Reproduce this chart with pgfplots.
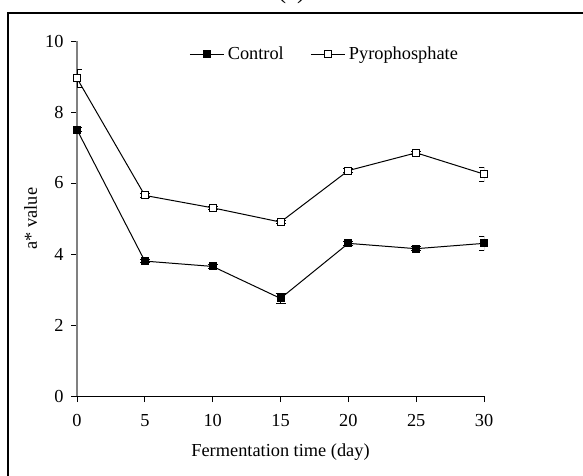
\documentclass[border=0pt]{standalone}
\usepackage{pgfplots}
\pgfplotsset{compat=1.18}
\usepackage{fontspec}
\setmainfont{Liberation Serif}

\begin{document}
\begin{tikzpicture}
% 1 px of the reference = 0.6pt
\path[use as bounding box] (0pt,0pt) rectangle (349.8pt,285pt);
% frame (only left and top visible)
\draw[line width=1.2pt] (4.8pt,-2pt) -- (4.8pt,277.2pt) -- (352pt,277.2pt);
\node[font=\fontsize{15}{17}\selectfont, anchor=base] at (175pt,286pt) {(a)};
\begin{axis}[
  at={(46.2pt,47.4pt)}, anchor=south west,
  scale only axis, width=244.2pt, height=213pt,
  xmin=0, xmax=30, ymin=0, ymax=10,
  axis lines=left,
  axis line style={-},
  x axis line style={black, line width=0.6pt},
  y axis line style={gray, line width=0.9pt},
  xtick={0,5,...,30}, ytick={0,2,...,10},
  tick style={black, line width=0.5pt},
  tick align=outside,
  major tick length=3.6pt,
  tick label style={font=\fontsize{11}{13}\selectfont},
  xticklabel style={yshift=-4pt},
  yticklabel style={xshift=-1pt},
  /pgf/number format/assume math mode=true,
  xlabel={Fermentation time (day)},
  ylabel={a* value},
  xlabel style={yshift=-3.5pt},
  ylabel style={yshift=-2pt},
  label style={font=\fontsize{11}{13}\selectfont},
  legend style={draw=none, fill=none, at={(0.61,0.963)}, anchor=center,
    font=\fontsize{11}{13}\selectfont, legend columns=2,
    /tikz/every even column/.append style={column sep=14pt}},
  legend image code/.code={\draw[mark repeat=2,mark phase=2,#1] plot coordinates {(0cm,0cm) (0.36cm,0cm) (0.72cm,0cm)};},
  error bars/error bar style={black, line width=0.6pt},
  error bars/error mark options={rotate=90, mark size=3pt, line width=0.6pt},
]
\addplot+[black, line width=0.6pt, mark=square*, mark size=2.1pt,
  mark options={solid, fill=black, draw=black},
  error bars/.cd, y dir=both, y explicit]
  coordinates {
  (0,7.50) +- (0,0.05)
  (5,3.80) +- (0,0.05)
  (10,3.65) +- (0,0.05)
  (15,2.75) +- (0,0.15)
  (20,4.30) +- (0,0.05)
  (25,4.15) +- (0,0.05)
  (30,4.30) +- (0,0.20)
};
\addlegendentry{Control}
\addplot+[black, line width=0.6pt, mark=square*, mark size=2.1pt,
  mark options={solid, fill=white, draw=black},
  error bars/.cd, y dir=both, y explicit]
  coordinates {
  (0,8.95) +- (0,0.25)
  (5,5.65) +- (0,0.05)
  (10,5.30) +- (0,0.05)
  (15,4.90) +- (0,0.05)
  (20,6.35) +- (0,0.05)
  (25,6.85) +- (0,0.05)
  (30,6.25) +- (0,0.20)
};
\addlegendentry{Pyrophosphate}
\end{axis}
\end{tikzpicture}
\end{document}
